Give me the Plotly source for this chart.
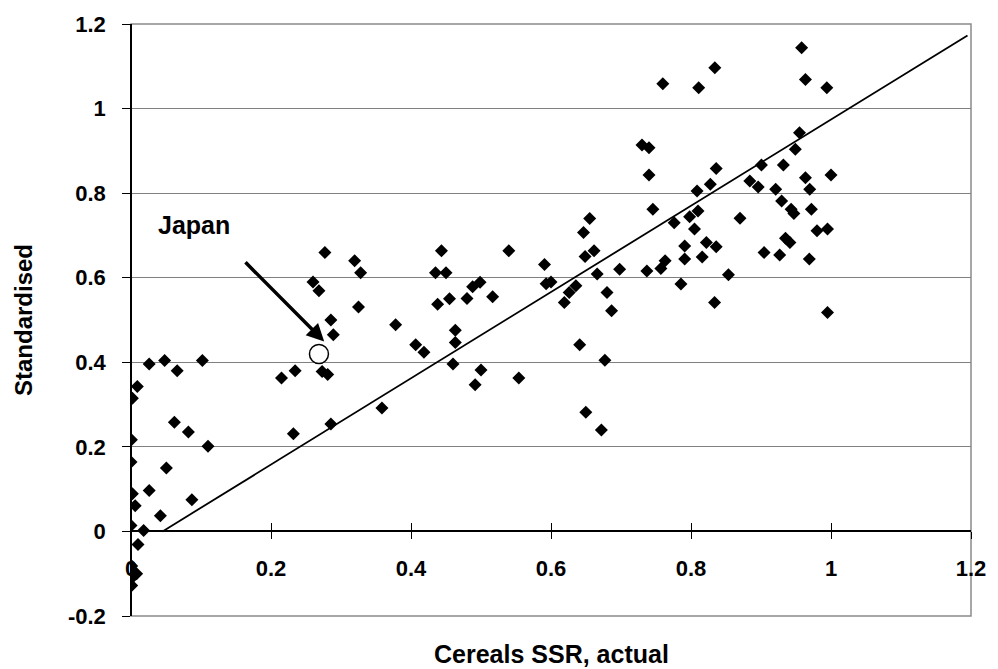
import plotly.graph_objects as go

# ---- data ----
ssr_actual = [
    0.026, 0.048, 0.066, 0.102, 0.009, 0.002, 0.062, 0.082, 0.110, 0.0005,
    0.0, 0.0505, 0.026, 0.002, 0.006, 0.087, 0.042, 0.0, 0.018, 0.010,
    0.001, 0.008, 0.0, 0.0, 0.001,
    0.215, 0.2345, 0.232, 0.273, 0.281, 0.277, 0.3195, 0.328, 0.260, 0.2685,
    0.325, 0.2855, 0.289, 0.378, 0.4067, 0.4185, 0.3585, 0.2855,
    0.4435, 0.435, 0.450, 0.438, 0.455, 0.480, 0.488, 0.4987, 0.5166, 0.4633,
    0.4633, 0.460, 0.500, 0.4916, 0.554, 0.5397, 0.5907, 0.593, 0.600, 0.619,
    0.626, 0.6355, 0.6487, 0.6615, 0.666, 0.698, 0.680, 0.6865, 0.641, 0.677,
    0.6497, 0.672, 0.6553, 0.6464, 0.730, 0.740, 0.740, 0.7455, 0.7597,
    0.737, 0.757, 0.763, 0.791, 0.791, 0.7856, 0.958, 0.834, 0.811, 0.9635,
    0.994, 0.955, 0.949, 0.9006, 0.932, 0.836, 0.8276, 0.8087, 0.884, 0.896,
    0.9635, 1.000, 0.921, 0.9696, 0.9295, 0.943, 0.947, 0.972, 0.870, 0.810,
    0.798, 0.776, 0.805, 0.980, 0.995, 0.822, 0.836, 0.935, 0.9413, 0.816,
    0.9044, 0.9267, 0.969, 0.8535, 0.8337, 0.995,
]
standardised = [
    0.396, 0.404, 0.380, 0.404, 0.343, 0.315, 0.258, 0.235, 0.2015, 0.217,
    0.164, 0.150, 0.097, 0.089, 0.061, 0.075, 0.037, 0.014, 0.002, -0.031,
    -0.082, -0.100, -0.100, -0.112, -0.128,
    0.363, 0.380, 0.231, 0.378, 0.371, 0.6595, 0.640, 0.612, 0.590, 0.569,
    0.531, 0.500, 0.465, 0.489, 0.4415, 0.4235, 0.292, 0.254,
    0.6635, 0.612, 0.612, 0.5375, 0.5505, 0.551, 0.5786, 0.589, 0.555, 0.476,
    0.447, 0.396, 0.382, 0.347, 0.363, 0.6635, 0.6315, 0.586, 0.590, 0.5415,
    0.565, 0.581, 0.650, 0.6635, 0.6085, 0.620, 0.565, 0.522, 0.4415, 0.405,
    0.282, 0.240, 0.740, 0.707, 0.914, 0.9075, 0.843, 0.762, 1.0586,
    0.616, 0.622, 0.640, 0.675, 0.644, 0.585, 1.1436, 1.0965, 1.049, 1.069,
    1.049, 0.943, 0.9036, 0.8666, 0.8666, 0.858, 0.821, 0.805, 0.829, 0.8146,
    0.8366, 0.843, 0.809, 0.809, 0.7815, 0.762, 0.752, 0.762, 0.7405, 0.758,
    0.744, 0.730, 0.715, 0.711, 0.715, 0.683, 0.673, 0.6935, 0.683, 0.649,
    0.6595, 0.654, 0.644, 0.607, 0.5415, 0.518,
]

japan_x = [0.2685]
japan_y = [0.4196]
japan_label = "Japan"

trend_x = [0.045, 1.195]
trend_y = [0.0, 1.173]

x_tick_vals = [0, 0.2, 0.4, 0.6, 0.8, 1.0, 1.2]
x_tick_text = ["0", "0.2", "0.4", "0.6", "0.8", "1", "1.2"]
y_tick_vals = [-0.2, 0, 0.2, 0.4, 0.6, 0.8, 1.0, 1.2]
y_tick_text = ["-0.2", "0", "0.2", "0.4", "0.6", "0.8", "1", "1.2"]

x_title = "Cereals SSR, actual"
y_title = "Standardised"

FONT = "Liberation Sans"
TICK_SIZE = 22
XTITLE_SIZE = 25
YTITLE_SIZE = 24
NOTE_SIZE = 25

fig = go.Figure()

fig.add_trace(go.Scatter(
    x=trend_x, y=trend_y, mode="lines",
    line=dict(color="black", width=1.8), hoverinfo="skip", showlegend=False,
))
fig.add_trace(go.Scatter(
    x=ssr_actual, y=standardised, mode="markers",
    marker=dict(symbol="diamond", size=10, color="black", line=dict(width=0)),
    showlegend=False,
))
fig.add_trace(go.Scatter(
    x=japan_x, y=japan_y, mode="markers",
    marker=dict(symbol="circle", size=19, color="white",
                line=dict(color="black", width=1.5)),
    showlegend=False,
))

# arrow to Japan
fig.add_annotation(
    x=0.276, y=0.449, ax=0.1614, ay=0.640, xref="x", yref="y",
    axref="x", ayref="y", text="", showarrow=True,
    arrowhead=2, arrowsize=1, arrowwidth=3.5, arrowcolor="black",
)
fig.add_annotation(
    x=0.0354, y=0.725, xref="x", yref="y", text=japan_label,
    showarrow=False, xanchor="left", yanchor="middle",
    font=dict(family=FONT, size=NOTE_SIZE, color="black", weight="bold"),
)
# axis titles
fig.add_annotation(
    x=0.5, y=0, xref="paper", yref="paper", yshift=-38,
    text=x_title, showarrow=False, xanchor="center", yanchor="middle",
    font=dict(family=FONT, size=XTITLE_SIZE, color="black", weight="bold"),
)
fig.add_annotation(
    x=-(131 - 22) / 848, y=0.5, xref="paper", yref="paper",
    text=y_title, textangle=-90, showarrow=False,
    xanchor="center", yanchor="middle",
    font=dict(family=FONT, size=YTITLE_SIZE, color="black", weight="bold"),
)

# plot border
fig.add_shape(type="rect", xref="paper", yref="paper", x0=0, y0=0, x1=1, y1=1,
              line=dict(color="#8a8a8a", width=1.5), layer="below")

fig.update_layout(
    width=998, height=669,
    margin=dict(l=131, r=19, t=23, b=53),
    paper_bgcolor="white", plot_bgcolor="white",
    hovermode=False,
    font=dict(family=FONT, color="black", weight="bold"),
    xaxis=dict(
        range=[0, 1.2], domain=[0, 1], anchor="free", position=1 / 7,
        tickvals=x_tick_vals, ticktext=x_tick_text,
        ticks="outside", ticklen=7, tickwidth=1, tickcolor="black",
        showline=True, linecolor="black", linewidth=1,
        showgrid=False, zeroline=False,
        tickfont=dict(family=FONT, size=TICK_SIZE, color="black", weight="bold"),
        ticklabelstandoff=10,
    ),
    xaxis2=dict(
        range=[0, 1.2], overlaying="x", anchor="free", position=1 / 7,
        tickvals=x_tick_vals, ticks="inside", ticklen=8, tickwidth=1,
        tickcolor="black", showticklabels=False, showline=False,
        showgrid=False, zeroline=False,
    ),
    yaxis=dict(
        range=[-0.2, 1.2], domain=[0, 1], anchor="free", position=0,
        tickvals=y_tick_vals, ticktext=y_tick_text,
        ticks="outside", ticklen=8, tickwidth=1, tickcolor="black",
        showline=True, linecolor="black", linewidth=1.5,
        showgrid=True, gridcolor="#808080", gridwidth=1,
        zeroline=True, zerolinecolor="black", zerolinewidth=1.5,
        tickfont=dict(family=FONT, size=TICK_SIZE, color="black", weight="bold"),
        ticklabelstandoff=12,
    ),
)
# dummy trace to activate xaxis2
fig.add_trace(go.Scatter(x=[None], y=[None], xaxis="x2", showlegend=False))

fig.write_html("out.html", config={"displayModeBar": False},
               post_script="document.body.style.margin='0';")
